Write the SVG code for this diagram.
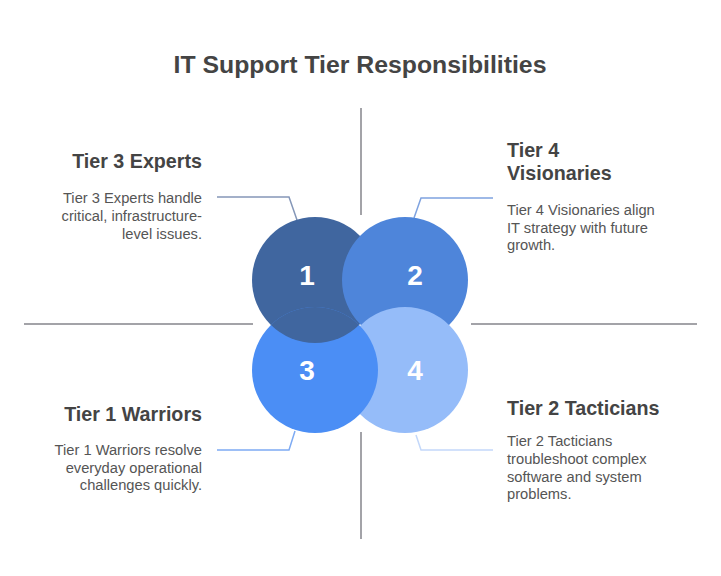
<svg xmlns="http://www.w3.org/2000/svg" width="721" height="576" viewBox="0 0 721 576">
<defs>
<style>
.title{font-family:"Liberation Sans",Arial,sans-serif;font-weight:bold;font-size:24.8px;fill:#444;}
.head{font-family:"Liberation Sans",Arial,sans-serif;font-weight:bold;font-size:19.7px;fill:#444;}
.body{font-family:"Liberation Sans",Arial,sans-serif;font-size:14.7px;fill:#555;}
.num{font-family:"Liberation Sans",Arial,sans-serif;font-weight:bold;font-size:28px;fill:#fff;text-anchor:middle;}
.axis{stroke:#a3a3a8;stroke-width:2;fill:none;}
.conn{stroke-width:1.5;fill:none;}
</style>
<clipPath id="clip3"><circle cx="315" cy="370" r="63"/></clipPath>
</defs>
<rect width="721" height="576" fill="#fff"/>
<text class="title" x="360" y="73" text-anchor="middle">IT Support Tier Responsibilities</text>
<g id="axes">
<line class="axis" x1="361" y1="108" x2="361" y2="215"/>
<line class="axis" x1="361" y1="432" x2="361" y2="539"/>
<line class="axis" x1="24" y1="324" x2="253" y2="324"/>
<line class="axis" x1="471" y1="324" x2="697" y2="324"/>
</g>
<g id="connectors">
<polyline class="conn" stroke="#8597b8" points="217,197 289,197 297,220"/>
<polyline class="conn" stroke="#7fa3e0" points="493,198 421,198 414,218"/>
<polyline class="conn" stroke="#7eabf3" points="217,450 289,450 295,431"/>
<polyline class="conn" stroke="#c3d8fa" points="493,450 421,450 416,435"/>
</g>
<g id="node1">
<circle cx="315" cy="280" r="63" fill="#40669f"/>
<text class="num" x="307" y="285">1</text>
<text class="head" x="202" y="168" text-anchor="end">Tier 3 Experts</text>
<text class="body" text-anchor="end"><tspan x="202" y="203">Tier 3 Experts handle</tspan><tspan x="202" y="221">critical, infrastructure-</tspan><tspan x="202" y="239">level issues.</tspan></text>
</g>
<g id="node2">
<circle cx="405" cy="280" r="63" fill="#4e85da"/>
<text class="num" x="415" y="285">2</text>
<text class="head"><tspan x="507" y="157">Tier 4</tspan><tspan x="507" y="180">Visionaries</tspan></text>
<text class="body"><tspan x="507" y="215">Tier 4 Visionaries align</tspan><tspan x="507" y="233">IT strategy with future</tspan><tspan x="507" y="250">growth.</tspan></text>
</g>
<g id="node4">
<circle cx="405" cy="370" r="63" fill="#95bcf9"/>
<text class="num" x="415" y="380">4</text>
<text class="head" x="507" y="415">Tier 2 Tacticians</text>
<text class="body"><tspan x="507" y="446">Tier 2 Tacticians</tspan><tspan x="507" y="464">troubleshoot complex</tspan><tspan x="507" y="482">software and system</tspan><tspan x="507" y="499">problems.</tspan></text>
</g>
<g id="node3">
<circle cx="315" cy="370" r="63" fill="#4b8ef5"/>
<text class="num" x="307" y="380">3</text>
<text class="head" x="202" y="421" text-anchor="end">Tier 1 Warriors</text>
<text class="body" text-anchor="end"><tspan x="202" y="455">Tier 1 Warriors resolve</tspan><tspan x="202" y="473">everyday operational</tspan><tspan x="202" y="490">challenges quickly.</tspan></text>
</g>
<g id="overlap">
<circle cx="315" cy="280" r="63" fill="#40669f" clip-path="url(#clip3)"/>
</g>
</svg>
